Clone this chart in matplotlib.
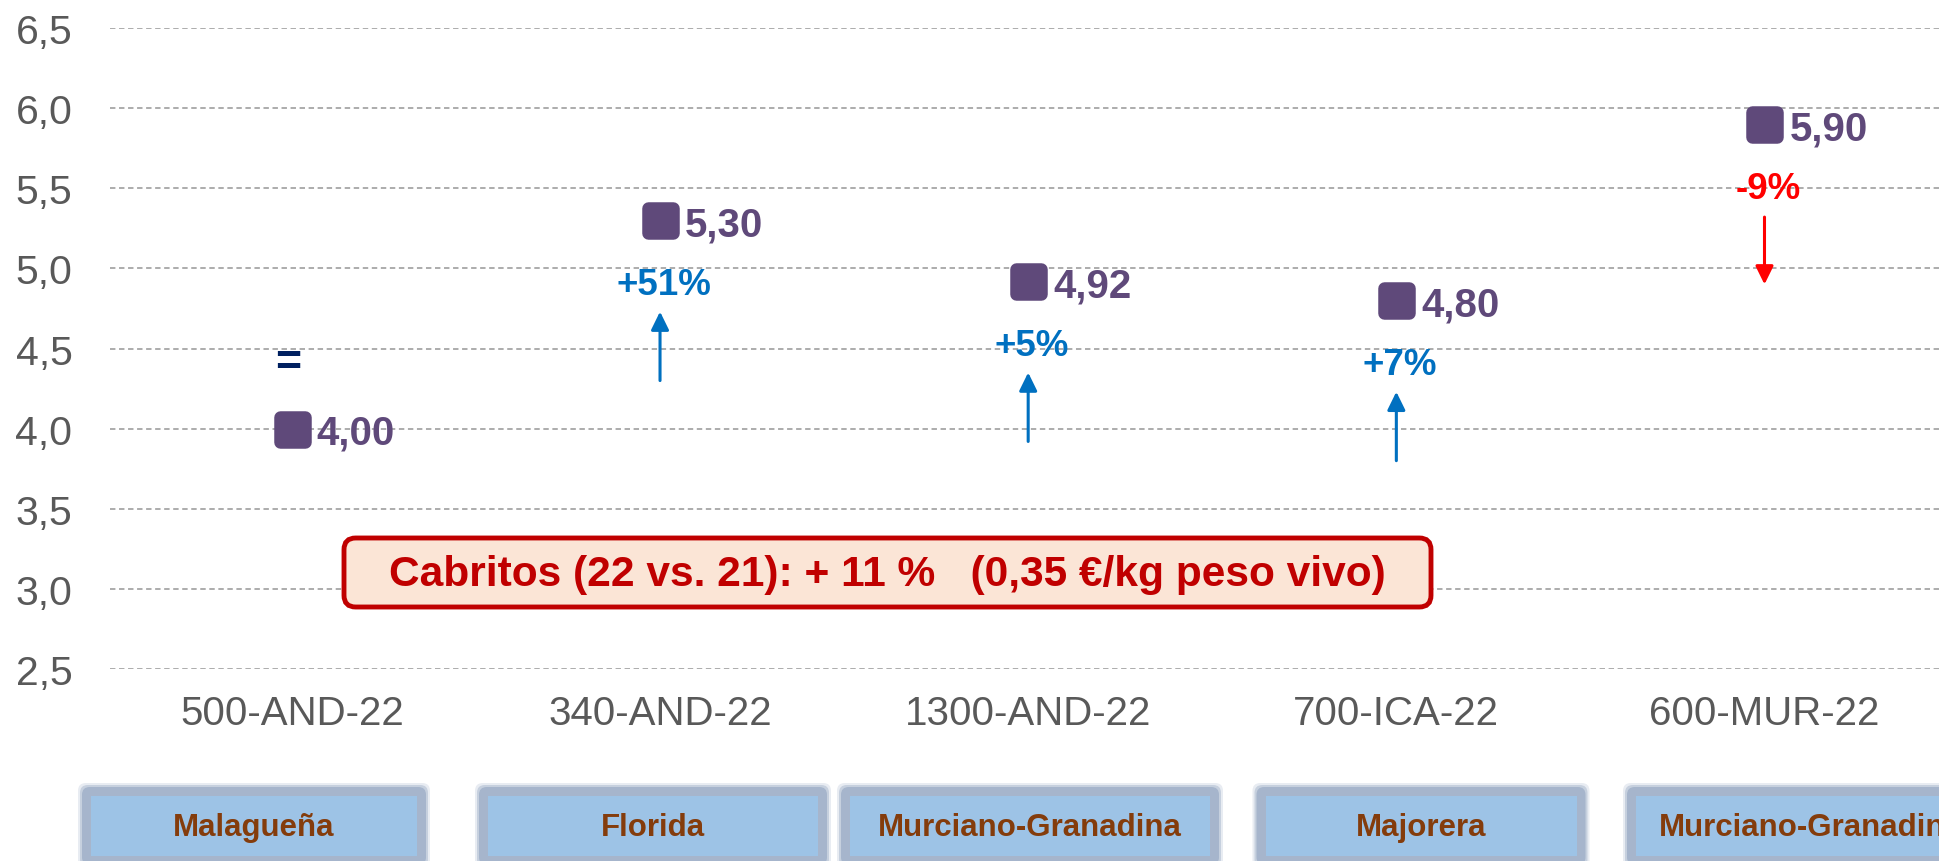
import numpy as np
import matplotlib
matplotlib.use("Agg")
import matplotlib.pyplot as plt
from matplotlib.markers import MarkerStyle
from matplotlib.patches import FancyBboxPatch
from matplotlib.ticker import FuncFormatter

# data
categories = ["500-AND-22", "340-AND-22", "1300-AND-22", "700-ICA-22", "600-MUR-22"]
prices = [4.00, 5.30, 4.92, 4.80, 5.90]
changes = ["=", "+51%", "+5%", "+7%", "-9%"]
breeds = ["Malagueña", "Florida", "Murciano-Granadina", "Majorera", "Murciano-Granadina"]
summary = "Cabritos (22 vs. 21): + 11 %   (0,35 €/kg peso vivo)"
y_ticks = [2.5, 3.0, 3.5, 4.0, 4.5, 5.0, 5.5, 6.0, 6.5]

plt.rcParams['font.family'] = ['Liberation Sans', 'DejaVu Sans']

PURPLE = "#5F497A"
BLUE = "#0070C0"
RED = "#FF0000"
NAVY = "#002060"
GREY = "#595959"

W, H = 1939, 862
fig = plt.figure(figsize=(W / 100, H / 100), dpi=100)
ax = fig.add_axes([110 / W, 1 - 670 / H, 1 - 110 / W, (670 - 29) / H])

x = np.arange(len(categories))
marker = MarkerStyle("s", joinstyle="round")
ax.plot(x, prices, ls="none", marker=marker, ms=18, mew=9,
        color=PURPLE, zorder=5, clip_on=False)

for i, v in enumerate(prices):
    ax.annotate(f"{v:.2f}".replace(".", ","), (i, v), xytext=(18, 0),
                textcoords="offset points", ha="left", va="center_baseline",
                fontsize=29, fontweight="bold", color=PURPLE)

    ch = changes[i]
    if ch == "=":
        ax.text(i - 0.01, v + 0.41, ch, ha="center", va="center",
                fontsize=32, fontweight="bold", color=NAVY)
        continue
    col = BLUE if ch.startswith("+") else RED
    ax.text(i + 0.01, v - 0.40, ch, ha="center", va="center",
            fontsize=26.5, fontweight="bold", color=col)
    if ch.startswith("+"):
        tail, head = v - 1.0, v - 0.57
    else:
        tail, head = v - 0.58, v - 1.0
    ax.annotate("", xy=(i, head), xytext=(i, tail),
                arrowprops=dict(arrowstyle="-|>,head_length=0.55,head_width=0.27",
                                color=col, lw=2.2, mutation_scale=20,
                                shrinkA=0, shrinkB=0))

ax.set_xlim(-0.494, 4.474)
ax.set_ylim(2.5, 6.5)
ax.set_yticks(y_ticks)
ax.yaxis.set_major_formatter(FuncFormatter(lambda v, p: f"{v:.1f}".replace(".", ",")))
ax.set_xticks(x)
ax.set_xticklabels(categories)
ax.tick_params(length=0, labelsize=29, labelcolor=GREY)
ax.tick_params(axis="y", labelsize=29.5, pad=27)
ax.tick_params(axis="x", pad=18)
ax.yaxis.grid(True, ls=(0, (3, 2)), color="#A6A6A6", lw=1.3)
ax.set_axisbelow(True)
for s in ax.spines.values():
    s.set_visible(False)

# summary box
box = FancyBboxPatch((344 / W, 1 - 608 / H), (1431 - 344) / W, 69 / H,
                     boxstyle="round,pad=0,rounding_size=0.006",
                     mutation_aspect=W / H, transform=fig.transFigure,
                     fc="#FBE5D6", ec="#C00000", lw=3.5, zorder=6)
fig.add_artist(box)
fig.text(887 / W, 1 - 575 / H, summary, ha="center", va="center",
         fontsize=30.6, fontweight="bold", color="#C00000", zorder=7)

# breed boxes under the axis (centre, width in pixels)
breed_boxes = [(254, 326), (653, 330), (1030, 360), (1421, 311), (1811, 350)]
top, bottom = 797, 857
for (cx, bw), name in zip(breed_boxes, breeds):
    for d, a in [(13, 0.25), (11, 0.5), (9, 1.0)]:
        sh = FancyBboxPatch(((cx - bw / 2 - d) / W, 1 - (bottom + d) / H),
                            (bw + 2 * d) / W, (bottom - top + 2 * d) / H,
                            boxstyle="round,pad=0,rounding_size=0.004",
                            mutation_aspect=W / H, transform=fig.transFigure,
                            fc="#A6B5CC", ec="none", alpha=a)
        fig.add_artist(sh)
    fill = FancyBboxPatch(((cx - bw / 2) / W, 1 - bottom / H), bw / W,
                          (bottom - top) / H,
                          boxstyle="square,pad=0", transform=fig.transFigure,
                          fc="#9DC3E6", ec="none")
    fig.add_artist(fill)
    fig.text(cx / W, 1 - 825 / H, name, ha="center", va="center_baseline",
             fontsize=22.5, fontweight="bold", color="#843C0C")

fig.savefig("out.png", dpi=100)
